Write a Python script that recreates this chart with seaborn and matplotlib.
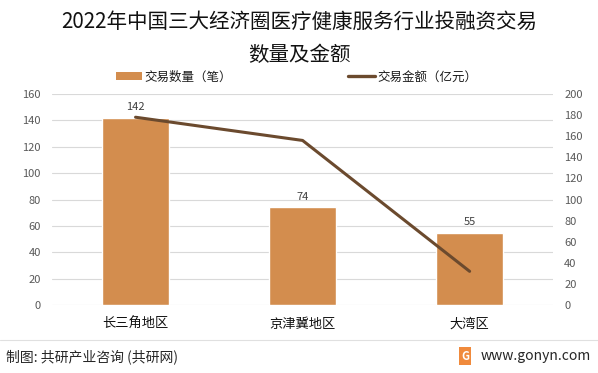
import matplotlib
matplotlib.use("Agg")
import matplotlib.pyplot as plt
import seaborn as sns
import numpy as np
import pandas as pd
from matplotlib.patches import Patch
from matplotlib.lines import Line2D

regions = ["长三角地区", "京津冀地区", "大湾区"]
deal_counts = [142, 74, 55]
deal_amounts = [178, 156, 32]
left_ticks = [0, 20, 40, 60, 80, 100, 120, 140, 160]
right_ticks = [0, 20, 40, 60, 80, 100, 120, 140, 160, 180, 200]

sns.set_theme(style="white")
plt.rcParams['font.family'] = ['Noto Sans CJK SC', 'DejaVu Sans']

bar_color = "#D38D4E"
line_color = "#6B4A2E"
tick_color = "#595959"

fig = plt.figure(figsize=(5.98, 3.73), dpi=100)
ax = fig.add_axes([0.087, 0.182, 0.838, 0.566])

df = pd.DataFrame({"region": regions, "count": deal_counts, "amount": deal_amounts})
sns.barplot(data=df, x="region", y="count", color=bar_color, width=0.4, ax=ax,
            saturation=1)
ax.set_xlim(-0.5, 2.5)
ax.set_ylim(0, 160)
ax.set_yticks(left_ticks)
ax.yaxis.grid(True, color="#D9D9D9", linewidth=0.8)
ax.set_axisbelow(True)
for s in ax.spines.values():
    s.set_visible(False)
ax.set_xlabel("")
ax.set_ylabel("")
ax.tick_params(axis="y", labelsize=8, colors=tick_color, length=0, pad=8)
ax.tick_params(axis="x", labelsize=9.5, colors="#111111", length=0, pad=9)

for i, v in enumerate(deal_counts):
    ax.text(i, v + 4, str(v), ha="center", va="bottom", fontsize=8, color="#404040")

ax2 = ax.twinx()
sns.lineplot(x=np.arange(len(regions)), y=deal_amounts, color=line_color, linewidth=2.2, ax=ax2)
ax2.set_ylim(0, 200)
ax2.set_yticks(right_ticks)
ax2.set_xlim(-0.5, 2.5)
for s in ax2.spines.values():
    s.set_visible(False)
ax2.tick_params(axis="y", labelsize=8, colors=tick_color, length=0, pad=8)
ax2.grid(False)

# Title
fig.text(0.5, 1 - 22 / 373, "2022年中国三大经济圈医疗健康服务行业投融资交易", ha="center", va="center",
         fontsize=14.8, color="#111111")
fig.text(0.5, 1 - 55 / 373, "数量及金额", ha="center", va="center", fontsize=14.8, color="#111111")

# Legend
handles = [Patch(facecolor=bar_color, edgecolor="none"),
           Line2D([0], [0], color=line_color, linewidth=2.4)]
labels = ["交易数量（笔）", "交易金额（亿元）"]
fig.legend(handles, labels, loc="center", bbox_to_anchor=(0.496, 1 - 77 / 373), ncol=2,
           frameon=False, fontsize=9, columnspacing=9.3, handlelength=2.1,
           handleheight=0.55, handletextpad=0.2, labelcolor="#1a1a1a")

# Footer
fig.add_artist(Line2D([0.0, 1.0], [1 - 340 / 373, 1 - 340 / 373], color="#E0E0E0", linewidth=0.8))
fig.text(0.010, 1 - 357 / 373, "制图: 共研产业咨询 (共研网)", ha="left", va="center",
         fontsize=10, color="#262626")
fig.text(0.778, 1 - 356 / 373, "G", ha="center", va="center", fontsize=8, color="white",
         fontweight="bold",
         bbox=dict(boxstyle="square,pad=0.2", facecolor="#F08A3C", edgecolor="none"))
fig.text(0.803, 1 - 356 / 373, "www.gonyn.com", ha="left", va="center",
         fontsize=10, color="#262626")

fig.savefig("out.png", dpi=100)
